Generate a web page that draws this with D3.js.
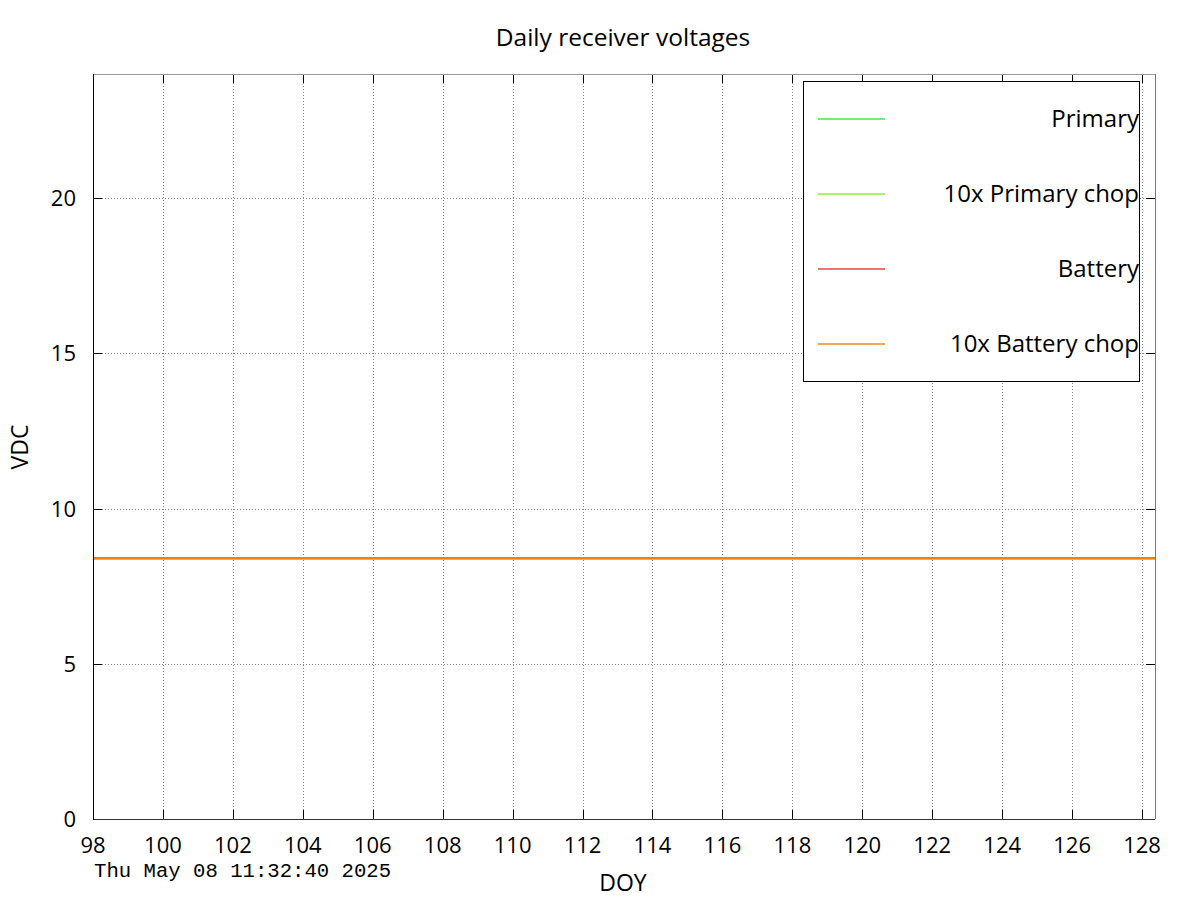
<!DOCTYPE html>
<html><head><meta charset="utf-8">
<script src="https://cdn.jsdelivr.net/npm/d3@7"></script>
<style>body{margin:0;background:#fff}svg{display:block}</style>
</head><body>
<script>
const doy = [98,99,100,101,102,103,104,105,106,107,108,109,110,111,112,113,114,115,116,117,118,119,120,121,122,123,124,125,126,127,128,128.37];
const primary =      [8.4,8.4,8.4,8.4,8.4,8.4,8.4,8.4,8.4,8.4,8.4,8.4,8.4,8.4,8.4,8.4,8.4,8.4,8.4,8.4,8.4,8.4,8.4,8.4,8.4,8.4,8.4,8.4,8.4,8.4,8.4,8.4];
const primaryChop =  [8.4,8.4,8.4,8.4,8.4,8.4,8.4,8.4,8.4,8.4,8.4,8.4,8.4,8.4,8.4,8.4,8.4,8.4,8.4,8.4,8.4,8.4,8.4,8.4,8.4,8.4,8.4,8.4,8.4,8.4,8.4,8.4];
const battery =      [8.4,8.4,8.4,8.4,8.4,8.4,8.4,8.4,8.4,8.4,8.4,8.4,8.4,8.4,8.4,8.4,8.4,8.4,8.4,8.4,8.4,8.4,8.4,8.4,8.4,8.4,8.4,8.4,8.4,8.4,8.4,8.4];
const batteryChop =  [8.4,8.4,8.4,8.4,8.4,8.4,8.4,8.4,8.4,8.4,8.4,8.4,8.4,8.4,8.4,8.4,8.4,8.4,8.4,8.4,8.4,8.4,8.4,8.4,8.4,8.4,8.4,8.4,8.4,8.4,8.4,8.4];
const seriesNames = ["Primary","10x Primary chop","Battery","10x Battery chop"];
const xTicks = [98,100,102,104,106,108,110,112,114,116,118,120,122,124,126,128];
const yTicks = [0,5,10,15,20];
const titleText = "Daily receiver voltages";
const xLabel = "DOY", yLabel = "VDC";
const stamp = "Thu May 08 11:32:40 2025";

const colors = ["#44e844","#88f038","#f04040","#f08a1a"];
const series = [primary, primaryChop, battery, batteryChop];

const W=1200,H=900;
const L=93,R=1155,T=74,B=819;
const svg=d3.select("body").append("svg").attr("width",W).attr("height",H);
const x=d3.scaleLinear().domain([98,128.37]).range([L,R]);
const y=d3.scaleLinear().domain([0,24]).range([B,T]);
const font="Open Sans, sans-serif";

// grid
const g=svg.append("g");
g.selectAll(".gx").data(xTicks.filter(d=>d>98)).enter().append("line")
 .attr("x1",d=>Math.round(x(d))+0.5).attr("x2",d=>Math.round(x(d))+0.5).attr("y1",T).attr("y2",B)
 .attr("stroke","#888").attr("stroke-width",1).attr("stroke-dasharray","1,2");
g.selectAll(".gy").data(yTicks.filter(d=>d>0)).enter().append("line")
 .attr("y1",d=>Math.round(y(d))+0.5).attr("y2",d=>Math.round(y(d))+0.5).attr("x1",L).attr("x2",R)
 .attr("stroke","#888").attr("stroke-width",1).attr("stroke-dasharray","1,2");

// ticks (mirrored, inward)
const tl=9;
xTicks.forEach(d=>{
  const xx=Math.round(x(d))+0.5;
  svg.append("line").attr("x1",xx).attr("x2",xx).attr("y1",B).attr("y2",B-tl).attr("stroke","#000");
  svg.append("line").attr("x1",xx).attr("x2",xx).attr("y1",T).attr("y2",T+tl).attr("stroke","#000");
});
yTicks.forEach(d=>{
  const yy=Math.round(y(d))+0.5;
  svg.append("line").attr("x1",L).attr("x2",L+tl).attr("y1",yy).attr("y2",yy).attr("stroke","#000");
  svg.append("line").attr("x1",R).attr("x2",R-tl).attr("y1",yy).attr("y2",yy).attr("stroke","#000");
});

// lines
const line=d3.line().x((d,i)=>x(doy[i])).y(d=>y(d));
series.forEach((s,k)=>{
  svg.append("path").datum(s).attr("d",line).attr("fill","none")
   .attr("stroke",k===3?"#ee8510":colors[k]).attr("stroke-width",2);
});

// border
svg.append("line").attr("x1",L).attr("x2",R).attr("y1",T+0.5).attr("y2",T+0.5).attr("stroke","#999");
svg.append("line").attr("x1",R+0.5).attr("x2",R+0.5).attr("y1",T).attr("y2",B).attr("stroke","#777");
svg.append("line").attr("x1",L).attr("x2",R).attr("y1",B+0.5).attr("y2",B+0.5).attr("stroke","#333");
svg.append("line").attr("x1",L+0.5).attr("x2",L+0.5).attr("y1",T).attr("y2",B+1).attr("stroke","#000");

// tick labels
svg.selectAll(".xl").data(xTicks).enter().append("text")
 .attr("x",d=>x(d)).attr("y",853).attr("text-anchor","middle")
 .attr("font-family",font).attr("font-size",22).text(d=>d);
svg.selectAll(".yl").data(yTicks).enter().append("text")
 .attr("x",76).attr("y",d=>y(d)+8).attr("text-anchor","end")
 .attr("font-family",font).attr("font-size",22).text(d=>d);

// title & labels
svg.append("text").attr("x",623).attr("y",46).attr("text-anchor","middle")
 .attr("font-family",font).attr("font-size",24.5).text(titleText);
svg.append("text").attr("x",623).attr("y",891).attr("text-anchor","middle")
 .attr("font-family",font).attr("font-size",23).text(xLabel);
svg.append("text").attr("transform","translate(28,447) rotate(-90)").attr("text-anchor","middle")
 .attr("font-family",font).attr("font-size",23).text(yLabel);
svg.append("text").attr("x",94).attr("y",877)
 .attr("font-family","Liberation Mono, monospace").attr("font-size",20)
 .attr("textLength",297).attr("lengthAdjust","spacingAndGlyphs").text(stamp);

// legend
const lg=svg.append("g");
lg.append("rect").attr("x",803.5).attr("y",81.5).attr("width",336).attr("height",300)
 .attr("fill","#fff").attr("stroke","#000");
seriesNames.forEach((n,k)=>{
  const yy=119+75*k;
  lg.append("line").attr("x1",818).attr("x2",885).attr("y1",yy).attr("y2",yy)
    .attr("stroke",colors[k]).attr("stroke-width",1.5);
  lg.append("text").attr("x",1139).attr("y",yy+8).attr("text-anchor","end")
    .attr("font-family",font).attr("font-size",24).text(n);
});
</script>
</body></html>
